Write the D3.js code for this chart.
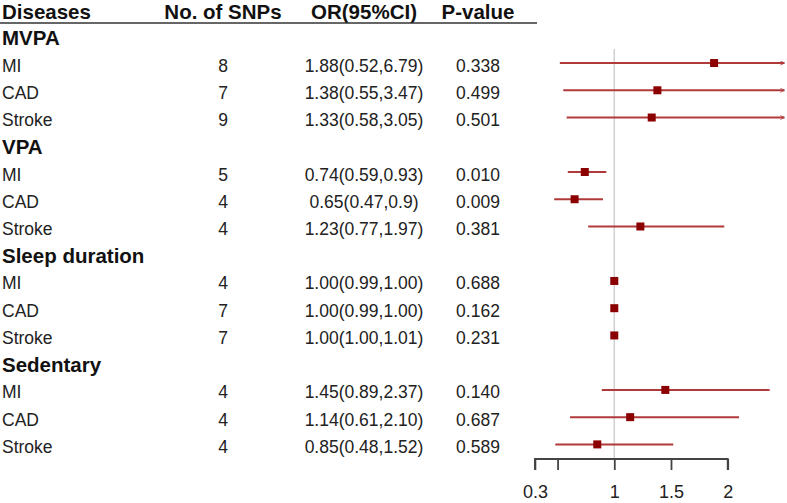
<!DOCTYPE html>
<html><head><meta charset="utf-8">
<script src="https://cdn.jsdelivr.net/npm/d3@7"></script>
<style>body{margin:0;background:#fff}svg{display:block;font-family:"Liberation Sans",Arial,sans-serif}</style>
</head><body><svg id="c" width="787" height="503"></svg>
<script>
const headers = ["Diseases", "No. of SNPs", "OR(95%CI)", "P-value"];
const groups = ["MVPA", "VPA", "Sleep duration", "Sedentary"];
const diseases = ["MI", "CAD", "Stroke", "MI", "CAD", "Stroke", "MI", "CAD", "Stroke", "MI", "CAD", "Stroke"];
const snps = [8, 7, 9, 5, 4, 4, 4, 7, 7, 4, 4, 4];
const orValues = [1.88, 1.38, 1.33, 0.74, 0.65, 1.23, 1.00, 1.00, 1.00, 1.45, 1.14, 0.85];
const lowerCI = [0.52, 0.55, 0.58, 0.59, 0.47, 0.77, 0.99, 0.99, 1.00, 0.89, 0.61, 0.48];
const upperCI = [6.79, 3.47, 3.05, 0.93, 0.9, 1.97, 1.00, 1.00, 1.01, 2.37, 2.10, 1.52];
const orLabels = ["1.88(0.52,6.79)", "1.38(0.55,3.47)", "1.33(0.58,3.05)", "0.74(0.59,0.93)", "0.65(0.47,0.9)", "1.23(0.77,1.97)", "1.00(0.99,1.00)", "1.00(0.99,1.00)", "1.00(1.00,1.01)", "1.45(0.89,2.37)", "1.14(0.61,2.10)", "0.85(0.48,1.52)"];
const pValues = ["0.338", "0.499", "0.501", "0.010", "0.009", "0.381", "0.688", "0.162", "0.231", "0.140", "0.687", "0.589"];
const tickValues = [0.3, 0.5, 1, 1.5, 2];
const tickLabels = ["0.3", "", "1", "1.5", "2"];

const svg = d3.select("#c");
const x = d3.scaleLinear().domain([0.3, 2.5]).range([534.9, 784.4]);
const y = d3.scaleLinear().domain([0, 15]).range([35.8, 444.4]);
const colX = [2, 223, 364, 478];
const anchors = ["start", "middle", "middle", "middle"];

const rows = diseases.map((d, i) => ({i, idx: Math.floor(i / 3) * 4 + (i % 3) + 1}));

svg.selectAll("text.h").data(headers).join("text")
  .attr("x", (d, i) => colX[i]).attr("y", 18.5).attr("text-anchor", (d, i) => anchors[i])
  .attr("font-size", 20.5).attr("font-weight", "bold").attr("fill", "#111").text(d => d);
svg.append("line").attr("x1", 0).attr("x2", 537).attr("y1", 23).attr("y2", 23)
  .attr("stroke", "#333").attr("stroke-width", 1.5);

svg.selectAll("text.g").data(groups).join("text")
  .attr("x", 2).attr("y", (d, i) => y(i * 4) + 9.5)
  .attr("font-size", 20.5).attr("font-weight", "bold").attr("fill", "#111").text(d => d);

const cols = [diseases, snps, orLabels, pValues];
cols.forEach((arr, c) => {
  svg.append("g").selectAll("text").data(rows).join("text")
    .attr("x", colX[c]).attr("y", r => y(r.idx) + 8.5).attr("text-anchor", anchors[c])
    .attr("font-size", 17.5).attr("fill", "#222").text(r => arr[r.i]);
});

svg.append("line").attr("x1", x(1)).attr("x2", x(1)).attr("y1", 49).attr("y2", 459)
  .attr("stroke", "#d0d0d0").attr("stroke-width", 1.5);

svg.append("defs").append("marker").attr("id", "arr")
  .attr("viewBox", "0 0 10 10").attr("refX", 9).attr("refY", 5)
  .attr("markerWidth", 5).attr("markerHeight", 5).attr("markerUnits", "userSpaceOnUse")
  .attr("orient", "auto")
  .append("path").attr("d", "M1,1 L9,5 L1,9").attr("fill", "none").attr("stroke", "#b03a3a").attr("stroke-width", 1.6);

const xmax = x.domain()[1];
svg.append("g").selectAll("line").data(rows).join("line")
  .attr("x1", r => x(Math.max(lowerCI[r.i], x.domain()[0])))
  .attr("x2", r => x(Math.min(upperCI[r.i], xmax)))
  .attr("y1", r => y(r.idx)).attr("y2", r => y(r.idx))
  .attr("stroke", "#b03a3a").attr("stroke-width", 2)
  .attr("marker-end", r => upperCI[r.i] > xmax ? "url(#arr)" : null);

const bs = 8;
svg.append("g").selectAll("rect").data(rows).join("rect")
  .attr("x", r => x(orValues[r.i]) - bs / 2).attr("y", r => y(r.idx) - bs / 2)
  .attr("width", bs).attr("height", bs).attr("fill", "#8b0000");

const axis = d3.axisBottom(x).tickValues(tickValues).tickFormat((d, i) => tickLabels[i]).tickSize(11).tickPadding(15);
const ag = svg.append("g").attr("transform", "translate(0,459)").call(axis);
ag.select(".domain").attr("d", `M${x(0.3)},11V0H${x(2)}V11`).attr("stroke", "#444").attr("stroke-width", 1.8);
ag.selectAll(".tick line").attr("stroke", "#444").attr("stroke-width", 1.8);
ag.selectAll(".tick text").attr("font-size", 18).attr("fill", "#222").attr("font-family", "Liberation Sans, Arial, sans-serif");
</script></body></html>
